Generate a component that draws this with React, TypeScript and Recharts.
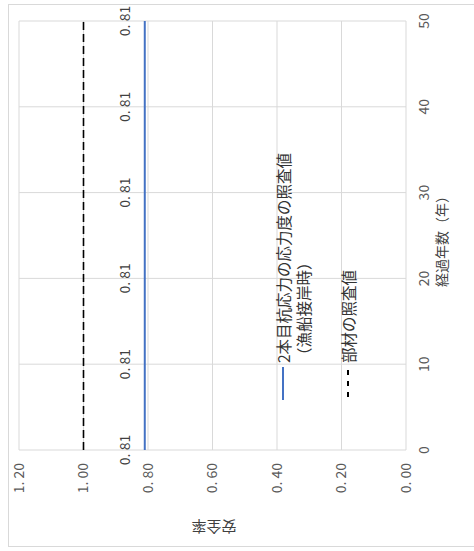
import React from 'react';
import { LineChart, Line, XAxis, YAxis, CartesianGrid, LabelList, Legend } from 'recharts';

const years = [0, 10, 20, 30, 40, 50];
const pileStressCheck = [0.81, 0.81, 0.81, 0.81, 0.81, 0.81];
const memberCheck = [1.0, 1.0, 1.0, 1.0, 1.0, 1.0];
const xTicks = [0, 10, 20, 30, 40, 50];
const yTicks = [0, 0.2, 0.4, 0.6, 0.8, 1.0, 1.2];
const seriesNames = ['2本目杭応力の応力度の照査値（漁船接岸時）', '部材の照査値'];
const legendLines = [['2本目杭応力の応力度の照査値', '（漁船接岸時）'], ['部材の照査値']];
const xTitle = '経過年数（年）';
const yTitle = '安全率';

const data = years.map((y, i) => ({ year: y, pile: pileStressCheck[i], member: memberCheck[i] }));

const FONT = '"Noto Sans CJK JP", "Noto Sans", sans-serif';
const fmt = (v: number) => Number(v).toFixed(2).replace('.', '. ');

const W = 551;
const H = 474;

const renderDataLabel = (props: any) => {
  const { x, y, value } = props;
  return (
    <text x={x} y={y - 21} textAnchor="middle" dominantBaseline="central" fontSize={14} fill="#404040" fontFamily={FONT}>
      {fmt(value)}
    </text>
  );
};

const renderLegend = (props: any) => {
  const payload = props.payload || [];
  const rows = [
    { y: 283, x1: 151, x2: 184, dash: undefined as string | undefined },
    { y: 348, x1: 154, x2: 181, dash: '5 6' },
  ];
  return (
    <svg width={W} height={H} style={{ position: 'absolute', left: 0, top: 0 }}>
      {payload.map((p: any, i: number) => {
        const r = rows[i];
        return (
          <g key={i}>
            <line x1={r.x1} x2={r.x2} y1={r.y} y2={r.y} stroke={p.color} strokeWidth={2} strokeDasharray={r.dash} />
            {legendLines[i].map((t, j) => (
              <text key={j} x={188} y={r.y + j * 20} dominantBaseline="central" fontSize={15.5} fill="#333333" fontFamily={FONT}>
                {t}
              </text>
            ))}
          </g>
        );
      })}
    </svg>
  );
};

export default function App() {
  return (
    <div
      style={{
        position: 'absolute',
        left: 0,
        top: 0,
        width: W,
        height: H,
        overflow: 'hidden',
        background: '#fff',
        transformOrigin: '0 0',
        transform: `translateY(${W}px) rotate(-90deg)`,
        fontFamily: FONT,
      }}
    >
      <div
        style={{
          position: 'absolute',
          left: 4,
          top: 8,
          width: 543,
          height: 490,
          border: '1px solid #d9d9d9',
          boxSizing: 'border-box',
        }}
      />
      <div style={{ position: 'absolute', left: 0, top: 0 }}>
        <LineChart width={W} height={H} data={data} margin={{ top: 19, right: 21, bottom: 38, left: 40 }}>
          <CartesianGrid stroke="#d9d9d9" strokeWidth={1} />
          <XAxis
            dataKey="year"
            type="number"
            domain={[0, 50]}
            ticks={xTicks}
            height={30}
            axisLine={false}
            tickLine={false}
            tickSize={0}
            tickMargin={13}
            tick={{ fill: '#595959', fontSize: 14, fontFamily: FONT }}
            label={{
              content: () => (
                <text x={313} y={441} textAnchor="middle" dominantBaseline="central" fontSize={14} fill="#404040" fontFamily={FONT}>
                  {xTitle}
                </text>
              ),
            }}
          />
          <YAxis
            type="number"
            domain={[0, 1.2]}
            ticks={yTicks}
            width={61}
            axisLine={false}
            tickLine={false}
            tickSize={0}
            tickMargin={13}
            tickFormatter={fmt}
            tick={{ fill: '#595959', fontSize: 14, fontFamily: FONT }}
            label={{
              content: () => (
                <text
                  x={24}
                  y={214}
                  transform="rotate(-90 24 214)"
                  textAnchor="middle"
                  dominantBaseline="central"
                  fontSize={15}
                  fill="#404040"
                  fontFamily={FONT}
                >
                  {yTitle}
                </text>
              ),
            }}
          />
          <Legend
            layout="horizontal"
            align="center"
            verticalAlign="middle"
            content={renderLegend}
            wrapperStyle={{ position: 'absolute', left: 0, top: 0, width: W, height: H, pointerEvents: 'none' }}
          />
          <Line
            name={seriesNames[0]}
            dataKey="pile"
            stroke="#4472C4"
            strokeWidth={2}
            dot={false}
            isAnimationActive={false}
          >
            <LabelList dataKey="pile" content={renderDataLabel} />
          </Line>
          <Line
            name={seriesNames[1]}
            dataKey="member"
            stroke="#000000"
            strokeWidth={1.6}
            strokeDasharray="8 4"
            dot={false}
            isAnimationActive={false}
          />
        </LineChart>
      </div>
    </div>
  );
}
